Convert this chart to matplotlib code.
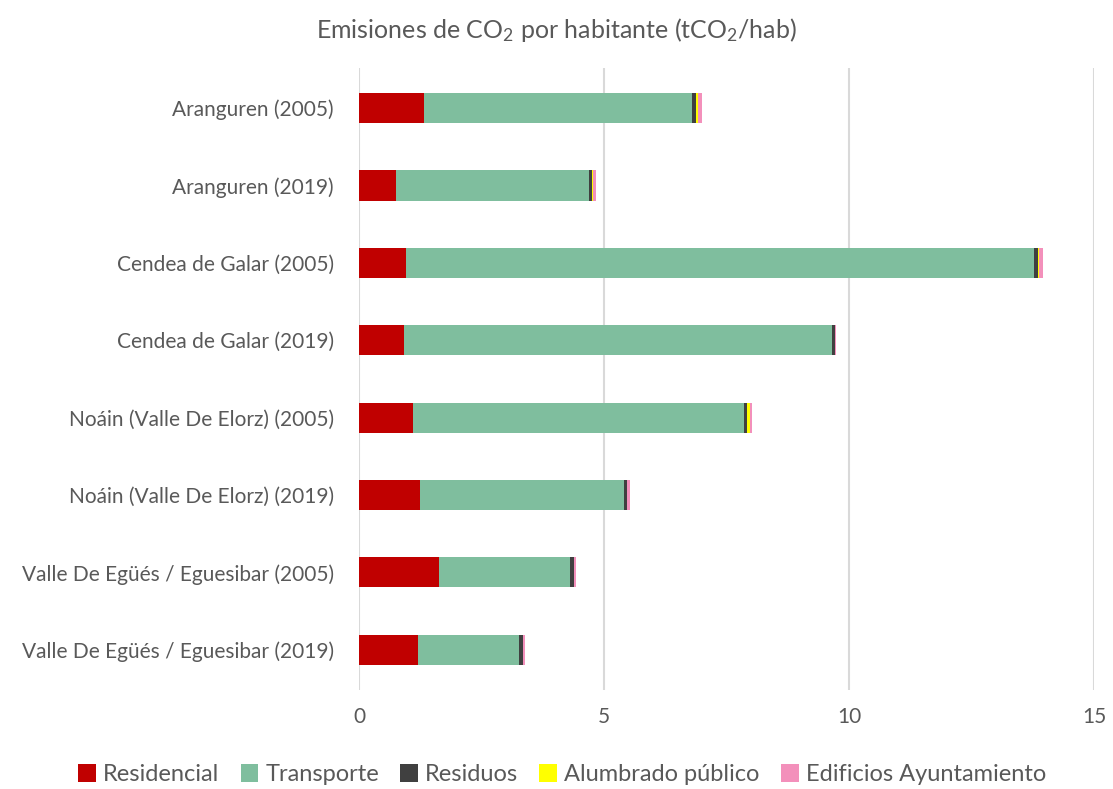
import matplotlib
matplotlib.use("Agg")
import matplotlib.pyplot as plt
import numpy as np

plt.rcParams['font.family'] = ['Lato', 'DejaVu Sans']
plt.rcParams['mathtext.default'] = 'regular'

categories = [
    "Aranguren (2005)",
    "Aranguren (2019)",
    "Cendea de Galar (2005)",
    "Cendea de Galar (2019)",
    "Noáin (Valle De Elorz) (2005)",
    "Noáin (Valle De Elorz) (2019)",
    "Valle De Egüés / Eguesibar (2005)",
    "Valle De Egüés / Eguesibar (2019)",
]

residencial = [1.33, 0.76, 0.96, 0.92, 1.10, 1.25, 1.63, 1.21]
transporte = [5.47, 3.93, 12.81, 8.73, 6.75, 4.16, 2.68, 2.06]
residuos = [0.075, 0.07, 0.075, 0.07, 0.075, 0.06, 0.075, 0.08]
alumbrado = [0.035, 0.02, 0.035, 0.0, 0.048, 0.0, 0.01, 0.0]
edificios = [0.095, 0.06, 0.08, 0.01, 0.048, 0.05, 0.03, 0.03]

series = [
    ("Residencial", residencial, "#c00000"),
    ("Transporte", transporte, "#7fbe9e"),
    ("Residuos", residuos, "#404040"),
    ("Alumbrado público", alumbrado, "#ffff00"),
    ("Edificios Ayuntamiento", edificios, "#f390bb"),
]

text_color = "#595959"

fig = plt.figure(figsize=(11.13, 7.89), dpi=100)
ax = fig.add_axes([0.3226, 0.1255, 0.6605, 0.7885])

y = np.arange(len(categories))
left = np.zeros(len(categories))
for name, vals, color in series:
    vals = np.array(vals)
    ax.barh(y, vals, left=left, height=0.39, color=color, label=name, zorder=3)
    left += vals

ax.set_xlim(0, 15)
ax.set_ylim(len(categories) - 0.48, -0.52)
ax.set_xticks([0, 5, 10, 15])
ax.set_yticks(y)
ax.set_yticklabels(categories)
ax.tick_params(axis='both', length=0, colors=text_color, labelsize=15)
ax.tick_params(axis='x', pad=12)
ax.tick_params(axis='y', pad=18)
ax.grid(axis='x', color="#d9d9d9", linewidth=1.5, zorder=0)
for s in ax.spines.values():
    s.set_visible(False)

fig.suptitle("Emisiones de CO$_2$ por habitante (tCO$_2$/hab)", y=0.98,
             fontsize=18, color=text_color)

fig.legend(loc="lower center", bbox_to_anchor=(0.505, -0.022), ncol=5, frameon=False,
           fontsize=17, labelcolor=text_color, handlelength=0.75, handleheight=0.75,
           handletextpad=0.3, columnspacing=0.9)

fig.savefig("out.png", dpi=100)
